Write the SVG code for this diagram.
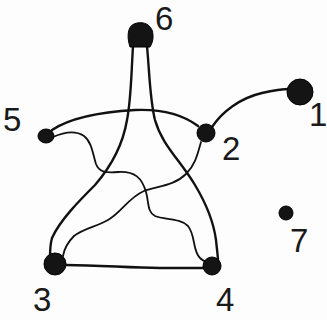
<svg xmlns="http://www.w3.org/2000/svg" width="327" height="320" viewBox="0 0 327 320">
<style>
.e{fill:none;stroke:#111;stroke-width:2.4;stroke-linecap:round;stroke-linejoin:round}
.t{stroke-width:1.8}
.n{fill:#141414;stroke:#000;stroke-width:1}
.l{font-family:"Liberation Sans",Arial,sans-serif;font-size:33px;fill:#1a1a1a}
</style>
<rect width="327" height="320" fill="#fdfdfd"/>
<g id="edges">
<path class="e" d="M133,46 C131,80 131,100 127,120 C122,150 108,170 95,185 C80,200 60,220 52,238 C50,245 50,252 50,258"/>
<path class="e" d="M147,46 C150,80 150,100 155,120 C162,145 180,160 195,185 C207,205 214,225 216,240 C217,250 218,256 218,262"/>
<path class="e" d="M52,130 C70,118 100,112 135,110 C160,109 182,114 198,126"/>
<path class="e" d="M212,127 C222,112 240,98 262,93 C275,90 284,89 290,89"/>
<path class="e t" d="M53,137 C62,133 75,130 84,136 C92,142 93,155 96,164 C99,172 105,173 118,172 C135,171 142,178 146,192 C149,202 147,212 155,216 C165,220 180,218 188,226 C196,236 192,250 200,258 C203,261 206,262 208,263"/>
<path class="e t" d="M201,142 C198,152 196,164 186,174 C174,186 158,186 144,191 C128,198 122,212 108,220 C96,227 84,228 74,236 C68,242 64,250 63,256"/>
<path class="e" d="M66,265 C100,265 130,268 160,268 C180,268 195,268 205,268"/>
</g>
<g id="node6"><path class="n" d="M130,47 C127,38 127,27 134,24 C141,21 149,23 152,30 C154,36 153,42 150,47 Z"/><text class="l" x="155" y="30">6</text></g>
<g id="node1"><circle class="n" cx="300" cy="92" r="13"/><text class="l" x="309" y="126">1</text></g>
<g id="node5"><ellipse class="n" cx="46" cy="136" rx="8" ry="7"/><text class="l" x="3" y="131">5</text></g>
<g id="node2"><circle class="n" cx="206" cy="133" r="9"/><text class="l" x="222" y="160">2</text></g>
<g id="node3"><circle class="n" cx="55" cy="264" r="11"/><text class="l" x="33" y="311">3</text></g>
<g id="node4"><circle class="n" cx="212" cy="266" r="9"/><text class="l" x="216" y="311">4</text></g>
<g id="node7"><circle class="n" cx="286" cy="213" r="7"/><text class="l" x="290" y="252">7</text></g>
</svg>
